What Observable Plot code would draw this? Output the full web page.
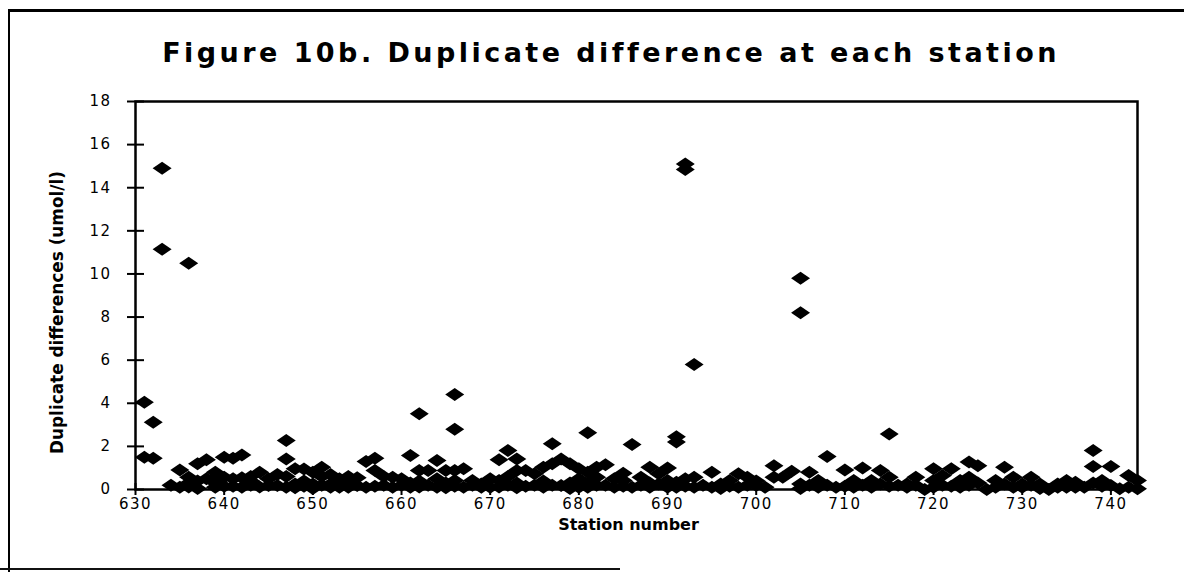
<!DOCTYPE html>
<html>
<head>
<meta charset="utf-8">
<script src="https://cdn.jsdelivr.net/npm/d3@7"></script>
<script src="https://cdn.jsdelivr.net/npm/@observablehq/plot@0.6"></script>
<style>
  body { margin: 0; background: #fff; }
  #wrap { position: relative; width: 1184px; height: 580px; overflow: hidden; background: #fff; }
  #frame { position: absolute; left: 8px; top: 9px; width: 1190px; height: 560px; z-index: 5; pointer-events: none;
           border-left: 2px solid #000; border-top: 3px solid #000; }
  #bottomLine { position: absolute; left: 0; top: 568px; width: 620px; height: 0; z-index: 5;
                border-top: 2px solid #111; }
  #titleBox { position: absolute; left: 0; top: 37px; width: 1222px; text-align: center; }
  #title { display: inline-block; font-family: "DejaVu Sans", sans-serif; font-weight: bold;
           font-size: 27px; color: #000; white-space: nowrap; }
  #chart { position: absolute; left: 0; top: 85px; }
  #chart g[aria-label="x-axis tick label"] text,
  #chart g[aria-label="y-axis tick label"] text { letter-spacing: 1.5px; }
</style>
</head>
<body>
<div id="wrap">
  <div id="frame"></div>
  <div id="bottomLine"></div>
  <div id="titleBox"><span id="title"></span></div>
  <div id="chart"></div>
</div>
<script>
const titleText = "Figure 10b. Duplicate difference at each station";
const xLabel = "Station number";
const yLabel = "Duplicate differences (umol/l)";
const xTicks = [630, 640, 650, 660, 670, 680, 690, 700, 710, 720, 730, 740];
const yTicks = [0, 2, 4, 6, 8, 10, 12, 14, 16, 18];

// main readings
const stations = [
  631, 631, 632, 632, 633, 633, 634, 635, 635, 636, 636, 636, 637, 637, 637, 638, 638, 639, 639,
  640, 640, 641, 641, 641, 642, 642, 643, 643, 644, 645, 646, 647, 647, 647, 648, 648, 649, 649,
  650, 650, 651, 652, 653, 653, 654, 655, 656, 656, 657, 657, 658, 658, 659, 659,
  660, 660, 661, 661, 662, 662, 662, 663, 663, 664, 664, 665, 665, 666, 666, 666, 666, 667, 667,
  668, 668, 669, 670, 670, 671, 671, 672, 672, 673, 673, 673, 674, 675, 675, 676, 676, 677, 677,
  678, 678, 679, 679, 680, 680, 681, 681, 681, 682, 682, 683, 683, 684, 685, 685, 686, 686, 687,
  688, 688, 689, 690, 690, 691, 691, 691, 692, 692, 692, 693, 693, 694, 695, 696, 697, 698, 698,
  699, 700, 700, 701, 702, 702, 703, 704, 705, 705, 705, 706, 707, 708, 709, 710, 711, 712, 713,
  714, 715, 715, 716, 717, 718, 719, 720, 720, 721, 722, 723, 724, 724, 725, 726, 727, 728, 729,
  730, 731, 732, 733, 734, 735, 736, 737, 738, 738, 739, 740, 740, 741, 742, 743, 743
];
const values = [
  4.05, 1.5, 3.12, 1.45, 14.9, 11.15, 0.2, 0.9, 0.1, 10.5, 0.57, 0.3, 1.19, 0.05, 0.4, 1.38, 0.5, 0.3, 0.8,
  1.5, 0.57, 1.45, 0.5, 0.15, 1.6, 0.55, 0.2, 0.4, 0.8, 0.18, 0.18, 2.27, 1.42, 0.6, 0.96, 0.26, 0.95, 0.4,
  0.26, 0.8, 1.03, 0.26, 0.5, 0.1, 0.34, 0.19, 0.1, 1.3, 1.45, 0.88, 0.6, 0.2, 0.57, 0.1,
  0.5, 0.2, 1.58, 0.3, 3.51, 0.88, 0.4, 0.88, 0.2, 1.35, 0.5, 0.88, 0.3, 4.41, 2.8, 0.88, 0.42, 0.96, 0.1,
  0.42, 0.2, 0.26, 0.1, 0.5, 1.38, 0.42, 1.81, 0.6, 1.42, 0.88, 0.3, 0.88, 0.73, 0.2, 1.03, 0.4, 2.12, 1.19,
  1.42, 0.19, 1.19, 0.3, 0.96, 0.5, 2.63, 0.8, 0.3, 1.03, 0.57, 1.15, 0.2, 0.5, 0.42, 0.75, 2.09, 0.1, 0.57,
  1.03, 0.3, 0.73, 1.0, 0.42, 2.45, 2.2, 0.34, 15.1, 14.85, 0.5, 5.8, 0.57, 0.2, 0.8, 0.26, 0.42, 0.73, 0.1,
  0.57, 0.19, 0.4, 0.1, 1.1, 0.57, 0.57, 0.85, 9.8, 8.2, 0.26, 0.8, 0.42, 1.53, 0.1, 0.9, 0.42, 1.0, 0.42,
  0.88, 2.58, 0.57, 0.2, 0.26, 0.57, 0.0, 0.96, 0.42, 0.65, 0.96, 0.42, 1.27, 0.57, 1.1, 0.0, 0.42, 1.03, 0.57,
  0.26, 0.57, 0.26, 0.0, 0.26, 0.42, 0.34, 0.1, 1.81, 1.07, 0.42, 1.07, 0.19, 0.03, 0.65, 0.42, 0.03
];

// additional low readings in the dense band near zero
const lowStations = [
  636, 639, 639, 640, 642, 643, 644, 645, 646, 647, 648, 649, 650, 651, 651, 652, 652, 654, 654, 655,
  657, 661, 662, 664, 665, 666, 669, 671, 672, 673, 674, 676, 677, 679, 680, 681, 682, 684, 685, 687,
  688, 689, 690, 691, 692, 693, 695, 696, 697, 699, 705, 706, 707, 708, 710, 711, 712, 713, 714, 715,
  717, 718, 720, 721, 722, 723, 724, 725, 727, 728, 729, 730, 731, 732, 734, 735, 736, 738, 739, 742
];
const lowValues = [
  0.12, 0.1, 0.55, 0.15, 0.1, 0.6, 0.12, 0.5, 0.7, 0.1, 0.08, 0.15, 0.05, 0.2, 0.6, 0.1, 0.7, 0.1, 0.6, 0.55,
  0.15, 0.1, 0.12, 0.1, 0.08, 0.15, 0.1, 0.12, 0.2, 0.08, 0.15, 0.1, 0.2, 0.05, 0.1, 0.1, 0.2, 0.1, 0.15, 0.2,
  0.1, 0.25, 0.1, 0.1, 0.15, 0.1, 0.1, 0.05, 0.15, 0.2, 0.05, 0.2, 0.1, 0.2, 0.15, 0.1, 0.2, 0.1, 0.25, 0.15,
  0.1, 0.2, 0.1, 0.2, 0.15, 0.1, 0.2, 0.3, 0.1, 0.25, 0.1, 0.1, 0.2, 0.05, 0.1, 0.1, 0.1, 0.3, 0.15, 0.1
];

const data = stations.map((s, i) => ({station: s, value: values[i]}))
  .concat(lowStations.map((s, i) => ({station: s, value: lowValues[i]})));

// flattened diamond marker, as in the scanned figure
const flatDiamond = {
  draw(ctx) {
    const w = 9.5, h = 6.5;
    ctx.moveTo(0, -h); ctx.lineTo(w, 0); ctx.lineTo(0, h); ctx.lineTo(-w, 0); ctx.closePath();
  }
};

const chart = Plot.plot({
  width: 1184,
  height: 470,
  marginLeft: 135,
  marginRight: 47,
  marginTop: 16,
  marginBottom: 66,
  style: {fontFamily: "DejaVu Sans, sans-serif", fontSize: "15px", color: "#000", background: "transparent", overflow: "visible"},
  x: {domain: [630, 743], label: null},
  y: {domain: [0, 18], label: null},
  marks: [
    Plot.frame({stroke: "#000", strokeWidth: 2.5}),
    Plot.axisX(xTicks, {tickSize: 12, dy: -6, tickFormat: () => "", label: null, strokeWidth: 2}),
    Plot.axisX(xTicks, {tickSize: 0, tickPadding: 9, label: null, tickFormat: d => String(d)}),
    Plot.axisY(yTicks, {tickSize: 17, dx: 9, tickFormat: () => "", label: null, strokeWidth: 2}),
    Plot.axisY(yTicks, {tickSize: 0, tickPadding: 24, label: null}),
    Plot.dot(data, {x: "station", y: "value", symbol: flatDiamond, fill: "#000", stroke: null, r: 6}),
    Plot.text([xLabel], {frameAnchor: "bottom", dx: -8, dy: 35, textAnchor: "middle", lineAnchor: "middle",
                         text: d => d, fontWeight: "bold", fontSize: 16}),
    Plot.text([yLabel], {frameAnchor: "left", dx: -78, dy: 17, rotate: -90, textAnchor: "middle", lineAnchor: "middle",
                         text: d => d, fontWeight: "bold", fontSize: 18})
  ]
});
document.getElementById("chart").appendChild(chart);

// stretch the rotated y label to the length it has in the scan
d3.select(chart).selectAll("text").filter(function() { return this.textContent === yLabel; })
  .attr("textLength", 283).attr("lengthAdjust", "spacingAndGlyphs");

const t = document.getElementById("title");
t.textContent = titleText;
const w = t.getBoundingClientRect().width;
t.style.letterSpacing = ((896 - w) / titleText.length) + "px";
</script>
</body>
</html>
